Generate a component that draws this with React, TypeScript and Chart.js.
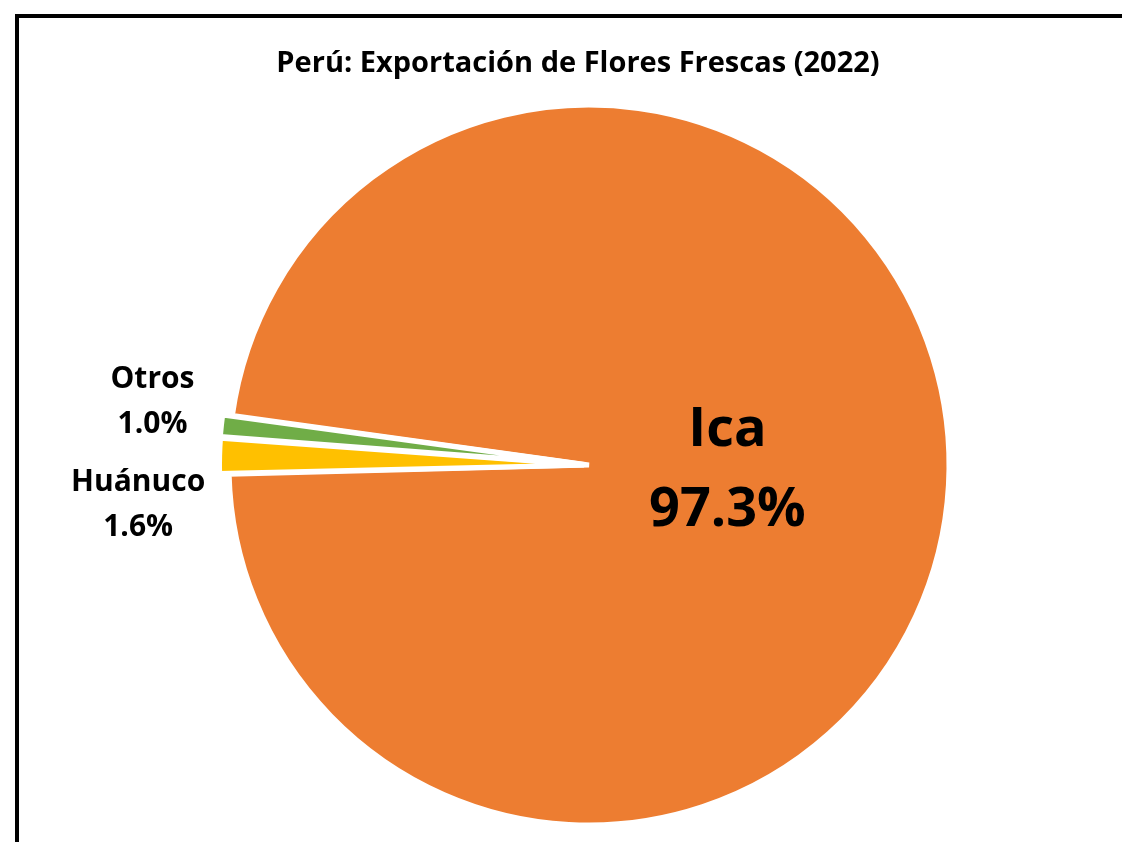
import React, { useEffect, useRef } from 'react';
import { Chart, registerables } from 'chart.js';

Chart.register(...registerables);

// ---- data ----
const TITLE = 'Perú: Exportación de Flores Frescas (2022)';
const categories = ['Ica', 'Huánuco', 'Otros'];
const shares = [97.3, 1.6, 1.0];
const shareLabels = ['97.3%', '1.6%', '1.0%'];

// ---- styles ----
const sliceColors = ['#ED7D31', '#FFC000', '#70AD47'];
const sliceOffsets = [0, 20, 20];
const FONT = '"Open Sans", Lato, sans-serif';

// label placement: distance beyond the outer radius along the slice mid-angle, and a vertical nudge
const outsideLabel = [
  null,
  { extra: 91, nudge: 50 },
  { extra: 79, nudge: -18 },
];

function drawBlock(ctx: CanvasRenderingContext2D, lines: string[], cx: number, cy: number, gap: number, cap: number) {
  const b1 = cy - (gap - cap) / 2;
  ctx.fillText(lines[0], cx, b1);
  ctx.fillText(lines[1], cx, b1 + gap);
}

const labelPlugin = {
  id: 'sliceLabels',
  afterDatasetsDraw(chart: any) {
    const ctx: CanvasRenderingContext2D = chart.ctx;
    const meta = chart.getDatasetMeta(0);
    ctx.save();
    ctx.fillStyle = '#000';
    ctx.textAlign = 'center';
    ctx.textBaseline = 'alphabetic';
    meta.data.forEach((arc: any, i: number) => {
      const { x, y, startAngle, endAngle, outerRadius } = arc.getProps(
        ['x', 'y', 'startAngle', 'endAngle', 'outerRadius'],
        true
      );
      const mid = (startAngle + endAngle) / 2;
      const lines = [categories[i], shareLabels[i]];
      if (i === 0) {
        const d = outerRadius * 0.385;
        const cx = x + Math.cos(mid) * d;
        const cy = y + Math.sin(mid) * d - 6;
        ctx.font = `bold 54px ${FONT}`;
        drawBlock(ctx, lines, cx, cy, 80, 38);
      } else {
        const p = outsideLabel[i]!;
        const d = outerRadius + p.extra;
        const cx = x + Math.cos(mid) * d;
        const cy = y + Math.sin(mid) * d + p.nudge;
        ctx.font = `bold 30px ${FONT}`;
        drawBlock(ctx, lines, cx, cy, 45, 20);
      }
    });
    ctx.font = `bold 29px ${FONT}`;
    ctx.fillText(TITLE, 578, 72);
    ctx.restore();
  },
};

export default function App() {
  const ref = useRef<HTMLCanvasElement | null>(null);

  useEffect(() => {
    if (!ref.current) return;
    const chart = new Chart(ref.current, {
      type: 'pie',
      data: {
        labels: categories,
        datasets: [
          {
            data: shares,
            backgroundColor: sliceColors,
            borderColor: '#FFFFFF',
            borderWidth: 5,
            offset: sliceOffsets,
            radius: 360,
          } as any,
        ],
      },
      options: {
        responsive: false,
        animation: false,
        rotation: -82.1,
        layout: { padding: { left: 56, right: 0, top: 88, bottom: 0 } },
        plugins: {
          legend: { display: false },
          title: { display: false },
          tooltip: { enabled: false },
        },
      },
      plugins: [labelPlugin],
    });
    return () => chart.destroy();
  }, []);

  return (
    <div
      style={{
        position: 'fixed',
        left: 0,
        top: 0,
        width: 1122,
        height: 842,
        overflow: 'hidden',
        background: '#fff',
      }}
    >
      <div
        style={{
          position: 'absolute',
          left: 15,
          top: 14,
          width: 1300,
          height: 1000,
          border: '4px solid #000',
          boxSizing: 'border-box',
        }}
      />
      <canvas ref={ref} width={1122} height={842} style={{ position: 'absolute', left: 0, top: 0 }} />
    </div>
  );
}
